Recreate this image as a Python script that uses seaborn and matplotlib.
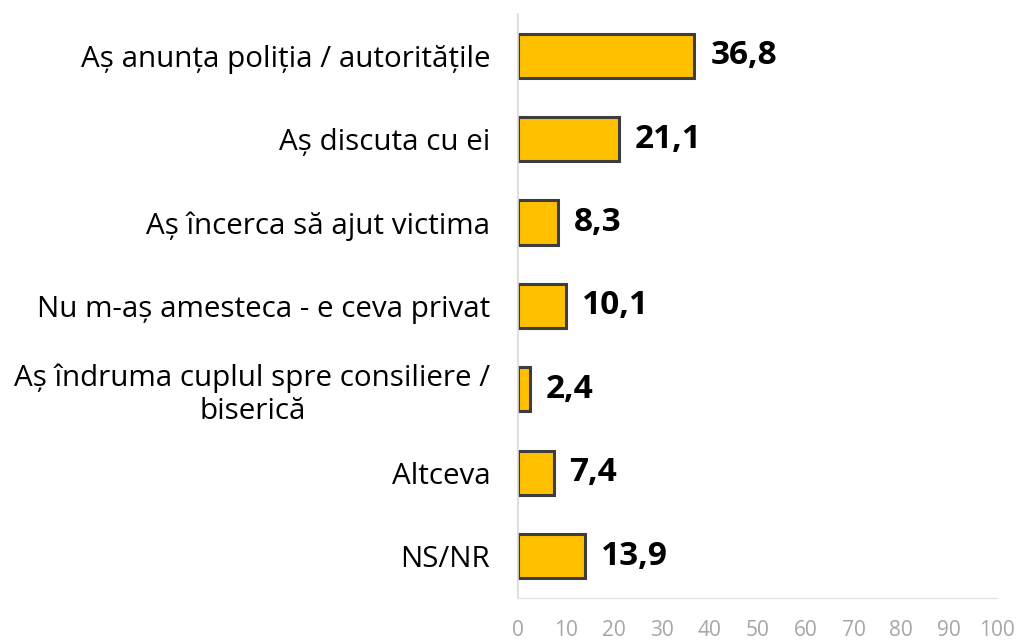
import matplotlib
matplotlib.use("Agg")
import matplotlib.pyplot as plt
import seaborn as sns
import pandas as pd

# answers and percentages
categories = [
    "Aș anunța poliția / autoritățile",
    "Aș discuta cu ei",
    "Aș încerca să ajut victima",
    "Nu m-aș amesteca - e ceva privat",
    "Aș îndruma cuplul spre consiliere /\nbiserică",
    "Altceva",
    "NS/NR",
]
values = [36.8, 21.1, 8.3, 10.1, 2.4, 7.4, 13.9]
x_ticks = [0, 10, 20, 30, 40, 50, 60, 70, 80, 90, 100]

df = pd.DataFrame({"cat": categories, "val": values})

sns.set_style("white")
plt.rcParams["font.family"] = ["Open Sans", "DejaVu Sans"]

fig = plt.figure(figsize=(10.28, 6.4), dpi=100)
ax = fig.add_axes([0.504, 0.066, 0.466, 0.912])

sns.barplot(data=df, x="val", y="cat", orient="h", color="#FFC000",
            saturation=1, width=0.53, edgecolor="#3d3d3d", linewidth=2.2, ax=ax)

for i, v in enumerate(values):
    ax.text(v + 3.3, i, f"{v:.1f}".replace(".", ","), va="center", ha="left",
            fontsize=24, fontweight="bold", color="black")

ax.set_xlim(0, 100)
ax.set_ylim(6.5, -0.5)
ax.set_xticks(x_ticks)
ax.set_xticklabels([str(t) for t in x_ticks], color="#a6a6a6", fontsize=15)
ax.tick_params(axis="x", length=0, pad=16)
ax.tick_params(axis="y", length=0, pad=20, labelsize=21.3, labelcolor="black")
for lab in ax.get_yticklabels():
    lab.set_multialignment("center")
ax.set_xlabel("")
ax.set_ylabel("")

for s in ["top", "right"]:
    ax.spines[s].set_visible(False)
ax.spines["left"].set_color("#d9d9d9")
ax.spines["bottom"].set_color("#e4e4e4")
ax.spines["left"].set_linewidth(1.2)
ax.spines["bottom"].set_linewidth(1.0)

fig.savefig("out.png", dpi=100, facecolor="white")
